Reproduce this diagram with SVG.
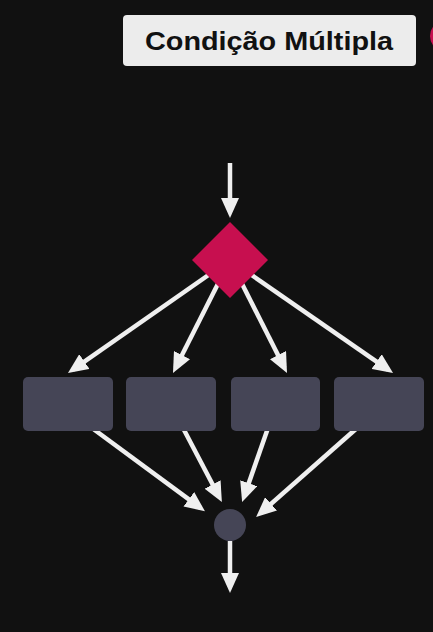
<svg xmlns="http://www.w3.org/2000/svg" width="433" height="632" viewBox="0 0 433 632">
  <style>
    .conn { stroke: #efefef; stroke-width: 4.5; fill: none; marker-end: url(#ah); }
    .box { fill: #454556; }
    .title { font-family: "Liberation Sans", Arial, sans-serif; font-weight: bold; font-size: 25px; fill: #111111; }
  </style>
  <defs>
    <marker id="ah" viewBox="0 0 20 18" refX="14" refY="9" markerWidth="20" markerHeight="18" markerUnits="userSpaceOnUse" orient="auto">
      <path d="M0,0 L20,9 L0,18 z" fill="#efefef"/>
    </marker>
  </defs>
  <rect x="0" y="0" width="433" height="632" fill="#111111"/>
  <circle cx="446" cy="36" r="16" fill="#c70f4f"/>
  <g id="title">
    <rect x="123" y="15" width="293" height="51" rx="4" fill="#ececec"/>
    <text class="title" x="269" y="50" text-anchor="middle" textLength="248" lengthAdjust="spacingAndGlyphs">Condição Múltipla</text>
  </g>
  <g id="connectors">
    <line class="conn" x1="230" y1="163" x2="230" y2="212"/>
    <line class="conn" x1="230" y1="260" x2="72.9" y2="369.6"/>
    <line class="conn" x1="230" y1="260" x2="175.7" y2="367.6"/>
    <line class="conn" x1="230" y1="260" x2="284.3" y2="367.6"/>
    <line class="conn" x1="230" y1="260" x2="388.1" y2="369.6"/>
    <line class="conn" x1="92" y1="428" x2="200.1" y2="507.6"/>
    <line class="conn" x1="183" y1="428" x2="219.1" y2="496.8"/>
    <line class="conn" x1="268" y1="428" x2="244.1" y2="496.4"/>
    <line class="conn" x1="357" y1="428" x2="260.6" y2="513.1"/>
    <line class="conn" x1="230" y1="541" x2="230" y2="587"/>
  </g>
  <g id="decision">
    <polygon points="230,222 268,260 230,298 192,260" fill="#c70f4f"/>
  </g>
  <g id="box1"><rect class="box" x="23" y="377" width="90" height="54" rx="5"/></g>
  <g id="box2"><rect class="box" x="126" y="377" width="90" height="54" rx="5"/></g>
  <g id="box3"><rect class="box" x="231" y="377" width="89" height="54" rx="5"/></g>
  <g id="box4"><rect class="box" x="334" y="377" width="90" height="54" rx="5"/></g>
  <g id="merge"><circle cx="230" cy="525" r="16" fill="#454556"/></g>
</svg>
